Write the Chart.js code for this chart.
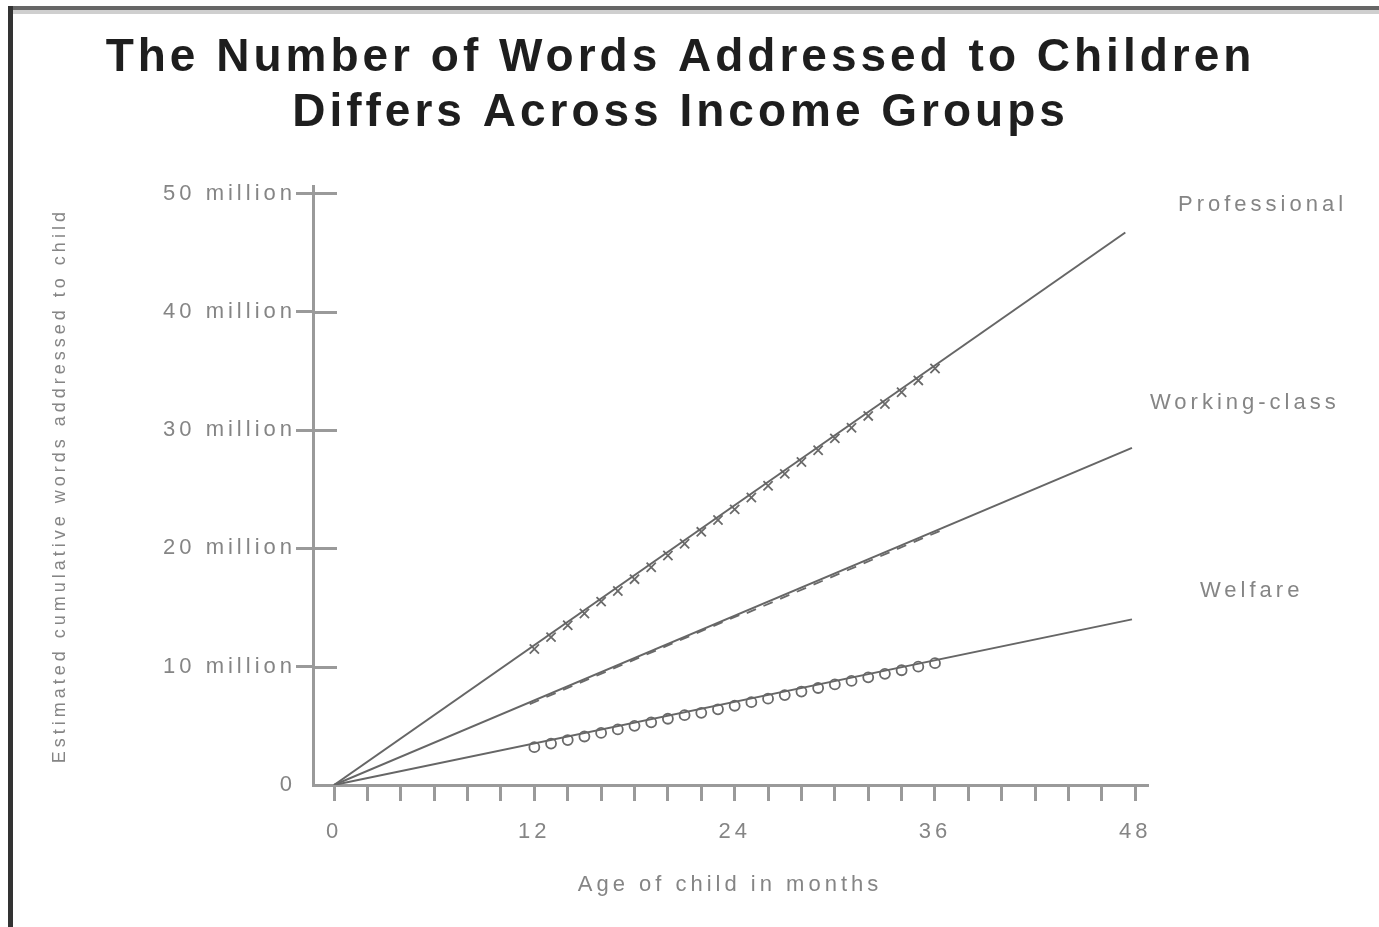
<!DOCTYPE html>
<html>
<head>
<meta charset="utf-8">
<script src="https://cdn.jsdelivr.net/npm/chart.js@4.4.1/dist/chart.umd.min.js"></script>
<style>
  html, body { margin: 0; padding: 0; background: #fff; width: 1379px; height: 927px; overflow: hidden; }
  #wrap { position: relative; width: 1379px; height: 927px; }
  canvas { position: absolute; left: 0; top: 0; }
  .frame { position: absolute; pointer-events: none; }
</style>
</head>
<body>
<div id="wrap">
  <canvas id="c" width="1379" height="927"></canvas>
  <div class="frame" style="left:8px;top:6px;width:1371px;height:4px;background:#666;"></div>
  <div class="frame" style="left:13px;top:10px;width:1366px;height:4px;background:#cfcfcf;"></div>
  <div class="frame" style="left:8px;top:6px;width:5px;height:921px;background:#333;"></div>
</div>
<script>
// ---------- data (millions of words, age in months) ----------
const titleLines = ['The Number of Words Addressed to Children', 'Differs Across Income Groups'];
const xAxisTitle = 'Age of child in months';
const yAxisTitle = 'Estimated cumulative words addressed to child';
const groups = ['Professional', 'Working-class', 'Welfare'];

// extrapolated trend lines: start at birth, end near 48 months
const trendStartAge = [0, 0, 0];
const trendStartWords = [0, 0, 0];
const trendEndAge = [47.4, 47.8, 47.8];
const trendEndWords = [46.7, 28.5, 14.0];

// observed monthly points (12..36 months region)
const observedAges = [12, 13, 14, 15, 16, 17, 18, 19, 20, 21, 22, 23, 24, 25, 26, 27, 28, 29, 30, 31, 32, 33, 34, 35, 36];
const professionalObserved = [11.5, 12.5, 13.5, 14.5, 15.5, 16.4, 17.4, 18.4, 19.4, 20.4, 21.4, 22.4, 23.3, 24.3, 25.3, 26.3, 27.3, 28.3, 29.3, 30.2, 31.2, 32.2, 33.2, 34.2, 35.2];
const workingObserved = [7.0, 7.6, 8.2, 8.8, 9.4, 10.0, 10.6, 11.2, 11.8, 12.4, 13.0, 13.6, 14.2, 14.7, 15.3, 15.9, 16.5, 17.1, 17.7, 18.3, 18.9, 19.5, 20.1, 20.7, 21.3];
const welfareObserved = [3.2, 3.5, 3.8, 4.1, 4.4, 4.7, 5.0, 5.3, 5.6, 5.9, 6.1, 6.4, 6.7, 7.0, 7.3, 7.6, 7.9, 8.2, 8.5, 8.8, 9.1, 9.4, 9.7, 10.0, 10.3];

// ticks
const xTickAges = [0, 2, 4, 6, 8, 10, 12, 14, 16, 18, 20, 22, 24, 26, 28, 30, 32, 34, 36, 38, 40, 42, 44, 46, 48];
const xLabelAges = [0, 12, 24, 36, 48];
const yTickValues = [0, 10, 20, 30, 40, 50];
const yTickLabels = ['0', '10 million', '20 million', '30 million', '40 million', '50 million'];

// ---------- styling ----------
const AXIS = '#9a9a9a';
const TEXT = '#858585';
const LINE = '#666666';
const FONT = "'Liberation Sans', Arial, Helvetica, sans-serif";

function pts(xs, ys) { return xs.map((x, i) => ({ x: x, y: ys[i] })); }

const observed = [professionalObserved, workingObserved, welfareObserved];
const markerStyles = ['crossRot', 'line', 'circle'];
const markerRadius = [6.5, 5, 5];
const markerRotation = [0, -23, 0];

const datasets = [];
groups.forEach((g, i) => {
  datasets.push({
    label: g,
    data: [{ x: trendStartAge[i], y: trendStartWords[i] }, { x: trendEndAge[i], y: trendEndWords[i] }],
    borderColor: LINE,
    borderWidth: 2,
    pointRadius: 0,
    tension: 0,
    fill: false
  });
  datasets.push({
    label: g + ' (observed)',
    data: pts(observedAges, observed[i]),
    showLine: false,
    pointStyle: markerStyles[i],
    pointRadius: markerRadius[i],
    pointRotation: markerRotation[i],
    pointBorderColor: '#6a6a6a',
    pointBackgroundColor: 'rgba(0,0,0,0)',
    pointBorderWidth: 1.8
  });
});

const spacingPlugin = {
  id: 'spacing',
  beforeUpdate(chart) { chart.ctx.letterSpacing = '4px'; },
  beforeLayout(chart) { chart.ctx.letterSpacing = '4px'; },
  beforeDraw(chart) { chart.ctx.letterSpacing = '4px'; }
};

const extrasPlugin = {
  id: 'extras',
  afterDraw(chart, args, opts) {
    const ctx = chart.ctx;
    const y = chart.scales.y;
    const area = chart.chartArea;
    ctx.save();
    // inward part of y tick marks
    ctx.strokeStyle = AXIS;
    ctx.lineWidth = 3;
    yTickValues.forEach(v => {
      if (v === 0) return;
      const py = Math.round(y.getPixelForValue(v)) + 0.5;
      ctx.beginPath();
      ctx.moveTo(area.left, py);
      ctx.lineTo(area.left + 24, py);
      ctx.stroke();
    });
    // series labels at the right
    ctx.letterSpacing = '4px';
    ctx.fillStyle = TEXT;
    ctx.font = '22px ' + FONT;
    ctx.textAlign = 'left';
    ctx.textBaseline = 'middle';
    groups.forEach((g, i) => {
      const a = opts.anchors[i];
      ctx.fillText(g, area.right + a.dx, y.getPixelForValue(a.v));
    });
    ctx.restore();
  }
};

new Chart(document.getElementById('c'), {
  type: 'line',
  data: { datasets: datasets },
  plugins: [spacingPlugin, extrasPlugin],
  options: {
    responsive: false,
    devicePixelRatio: 1,
    animation: false,
    layout: { padding: { left: 0, right: 18, top: 0, bottom: 0 } },
    plugins: {
      legend: { display: false },
      tooltip: { enabled: false },
      title: {
        display: true,
        text: titleLines,
        color: '#1e1e1e',
        font: { family: FONT, size: 46, weight: 'bold', lineHeight: 1.2 },
        padding: { top: 31, bottom: 45 }
      },
      extras: {
        anchors: [ { dx: 31, v: 49.0 }, { dx: 3, v: 32.3 }, { dx: 53, v: 16.4 } ]
      }
    },
    scales: {
      x: {
        type: 'linear',
        position: 'bottom',
        min: -1.26,
        max: 48.7,
        afterBuildTicks(scale) { scale.ticks = xTickAges.map(v => ({ value: v })); },
        afterFit(scale) { scale.height = 142; },
        ticks: {
          color: TEXT,
          font: { family: FONT, size: 22 },
          padding: 18,
          maxRotation: 0,
          autoSkip: false,
          callback: (v) => xLabelAges.includes(v) ? String(v) : ''
        },
        grid: { drawOnChartArea: false, drawTicks: true, tickLength: 16, color: AXIS, lineWidth: 3 },
        border: { display: true, color: AXIS, width: 3 },
        title: {
          display: true,
          text: xAxisTitle,
          color: TEXT,
          font: { family: FONT, size: 22 },
          padding: { top: 0, bottom: 29 }
        }
      },
      y: {
        type: 'linear',
        position: 'left',
        min: 0,
        max: 50.6,
        afterBuildTicks(scale) { scale.ticks = yTickValues.map(v => ({ value: v })); },
        afterFit(scale) { scale.width = 313; },
        ticks: {
          color: TEXT,
          font: { family: FONT, size: 22 },
          padding: 0,
          autoSkip: false,
          callback: (v) => { const k = yTickValues.indexOf(v); return k >= 0 ? yTickLabels[k] : ''; }
        },
        grid: {
          drawOnChartArea: false, drawTicks: true, tickLength: 17, lineWidth: 3,
          color: (c) => (c.tick && c.tick.value === 0) ? 'rgba(0,0,0,0)' : AXIS
        },
        border: { display: true, color: AXIS, width: 3 },
        title: {
          display: true,
          text: yAxisTitle,
          color: TEXT,
          font: { family: FONT, size: 18 },
          padding: { top: 49, bottom: 0 }
        }
      },
      yRight: {
        type: 'linear',
        position: 'right',
        display: true,
        afterFit(scale) { scale.width = 214; },
        ticks: { display: false },
        grid: { display: false, drawTicks: false },
        border: { display: false },
        title: { display: false }
      }
    }
  }
});
</script>
</body>
</html>
